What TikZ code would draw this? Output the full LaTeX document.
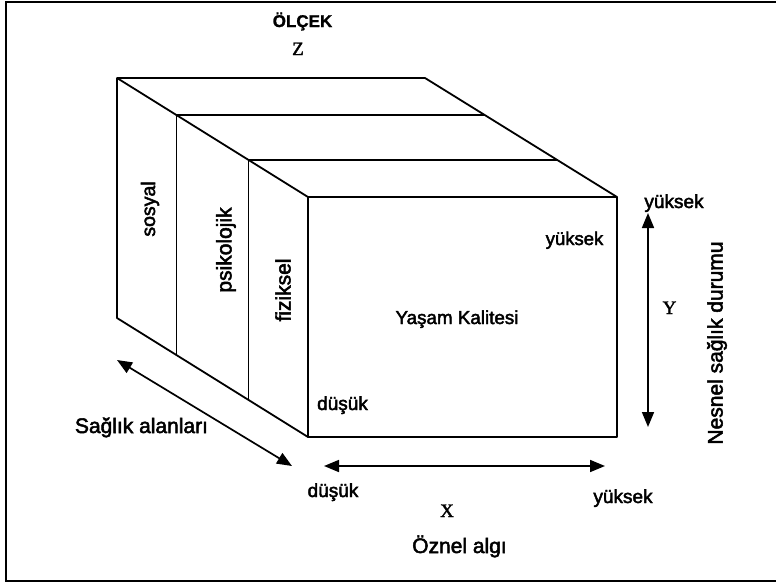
\documentclass[tikz,border=0pt]{standalone}
\usepackage{fontspec}
\setmainfont{Liberation Sans}
\newfontfamily\heavy{Liberation Sans}[FakeBold=2.4]
\newfontfamily\heavybold{Liberation Sans Bold}[FakeBold=1.2]
\newfontfamily\serifface{Liberation Serif}[FakeBold=1.8]
\usetikzlibrary{arrows.meta,calc}
\begin{document}
\begin{tikzpicture}[x=1pt,y=-1pt,
  outer/.style={line width=1.8pt, line join=round},
  inner/.style={line width=1.4pt},
  frame/.style={line width=2pt},
  dbl/.style={line width=1.7pt,
    {Triangle[length=15pt,width=12pt]}-{Triangle[length=15pt,width=12pt]}},
  lbl/.style={inner sep=0pt, anchor=base},
  vlbl/.style={inner sep=0pt, rotate=90},
  sz/.style={font={\fontsize{#1}{#1}\selectfont\heavy}},
  szb/.style={font={\fontsize{#1}{#1}\selectfont\heavybold}},
  szs/.style={font={\fontsize{#1}{#1}\selectfont\serifface}}]
\useasboundingbox (0,0) rectangle (776,584);
% frame (open on the right)
\draw[frame] (776,2) -- (6,2) -- (6,581) -- (776,581);
% cube corners
\coordinate (BTL) at (117,78);
\coordinate (BTR) at (425,78);
\coordinate (FTL) at (308,197);
\coordinate (FTR) at (617,197);
\coordinate (FBR) at (617,437);
\coordinate (FBL) at (308,437);
\coordinate (BBL) at (117,318);
% slab division points
\coordinate (P1) at ($(BTL)!0.31!(FTL)$);
\coordinate (P1r) at ($(BTR)!0.31!(FTR)$);
\coordinate (P1b) at ($(BBL)!0.31!(FBL)$);
\coordinate (P2) at ($(BTL)!0.69!(FTL)$);
\coordinate (P2r) at ($(BTR)!0.69!(FTR)$);
\coordinate (P2b) at ($(BBL)!0.69!(FBL)$);
% cube
\draw[outer] (BTL) -- (BTR) -- (FTR) -- (FBR) -- (FBL) -- (BBL) -- cycle;
\draw[outer] (BTL) -- (FTL) -- (FTR);
\draw[outer] (FTL) -- (FBL);
\draw[inner] (P1b) -- (P1) -- (P1r);
\draw[inner] (P2b) -- (P2) -- (P2r);
% arrows
\coordinate (DA1) at (117,360);
\coordinate (DA2) at (292,466);
\coordinate (XA1) at (324,466);
\coordinate (XA2) at (605,466);
\coordinate (YA1) at (648,213);
\coordinate (YA2) at (648,427);
\draw[dbl] (DA1) -- (DA2);
\draw[dbl] (XA1) -- (XA2);
\draw[dbl] (YA1) -- (YA2);
% labels
\node[lbl, szb=17] (olcek) at (302.5,27) {ÖLÇEK};
\node[lbl, szs=19] (z) at (298,55) {Z};
\node[lbl, sz=18.8] (yasam) at (457,324) {Yaşam Kalitesi};
\node[lbl, sz=18.5] (yuk1) at (574.5,245) {yüksek};
\node[lbl, sz=19] (dus1) at (342.5,410) {düşük};
\node[lbl, sz=19] (yuk2) at (674,208) {yüksek};
\node[lbl, szs=19] (ylab) at (669.5,314) {Y};
\node[lbl, sz=21] (saglik) at (141.5,433) {Sağlık alanları};
\node[lbl, sz=19] (dus2) at (333,497) {düşük};
\node[lbl, sz=19] (yuk3) at (623,503) {yüksek};
\node[lbl, szs=19] (xlab) at (447,517) {X};
\node[lbl, sz=21] (oznel) at (459.5,553) {Öznel algı};
\node[vlbl, sz=19.5] (sosyal) at (150,209) {sosyal};
\node[vlbl, sz=21] (psiko) at (226,250) {psikolojik};
\node[vlbl, sz=21] (fiz) at (283,290) {fiziksel};
\node[vlbl, sz=21] (nesnel) at (717,343) {Nesnel sağlık durumu};
\end{tikzpicture}
\end{document}
